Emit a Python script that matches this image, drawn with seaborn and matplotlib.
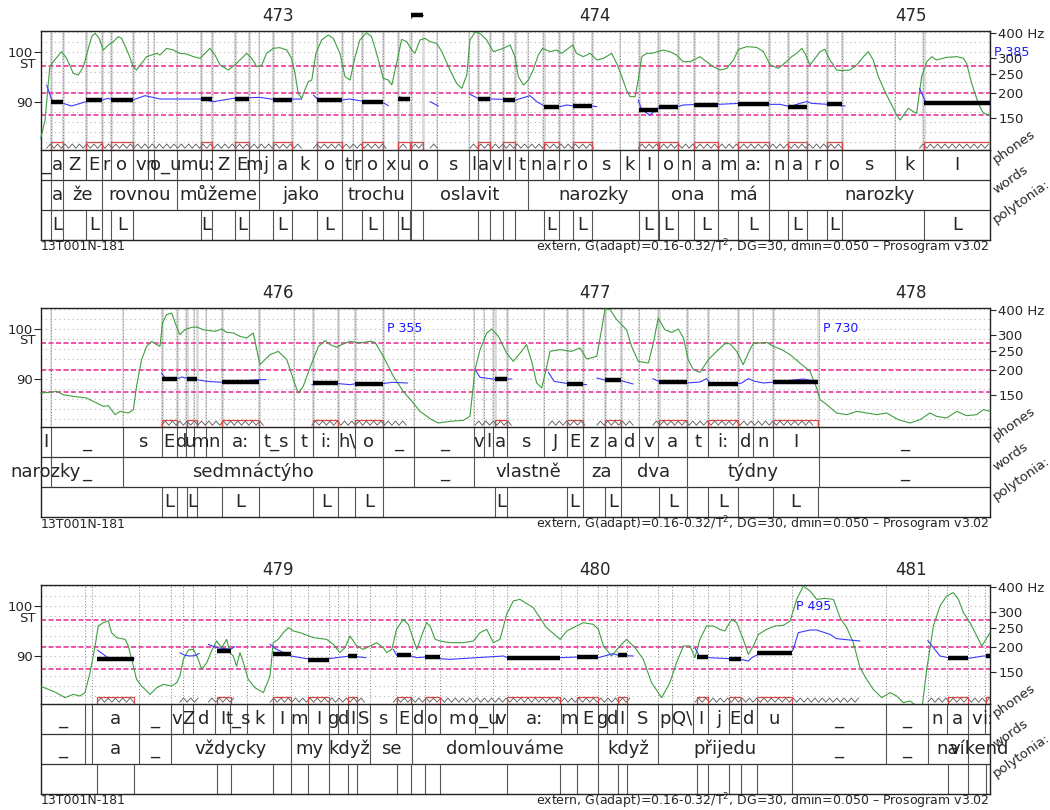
import numpy as np
import pandas as pd
import matplotlib
matplotlib.use("Agg")
import matplotlib.pyplot as plt
import seaborn as sns
from matplotlib.patches import Rectangle

sns.set_style("white")
plt.rcParams['font.family'] = ['DejaVu Sans']

# ---------------- panel 1 (472.25 - 475.25 s) ----------------
ph1_t = [472.250, 472.281, 472.320, 472.392, 472.442, 472.471, 472.540, 472.588, 472.607, 472.680,
         472.755, 472.790, 472.863, 472.908, 472.940, 472.982, 473.043, 473.122, 473.201, 473.237,
         473.264, 473.330, 473.380, 473.420, 473.501, 473.604, 473.631, 473.669, 473.711, 473.748,
         473.790, 473.837, 473.888, 473.933, 473.991, 474.080, 474.141, 474.201, 474.265, 474.314,
         474.391, 474.452, 474.552, 474.612, 474.672, 474.734, 474.781, 474.950, 475.039, 475.250]
ph1_lab = ["_", "a", "Z", "E", "r", "o", "v", "n", "o_u", "m", "u:", "Z", "E", "m", "j", "a", "k", "o",
           "t", "r", "o", "x", "u", "o", "s", "l", "a", "v", "I", "t", "n", "a", "r", "o", "s", "k", "I",
           "o", "n", "a", "m", "a:", "n", "a", "r", "o", "s", "k", "I"]
wd1_t = [472.250, 472.281, 472.320, 472.442, 472.680, 472.940, 473.201, 473.420, 473.790, 474.201,
         474.391, 474.552, 475.250]
wd1_lab = ["", "a", "že", "rovnou", "můžeme", "jako", "trochu", "oslavit", "narozky", "ona", "má", "narozky"]
nuc1_start = [472.281, 472.392, 472.471, 472.755, 472.863, 472.982, 473.122, 473.264, 473.380, 473.420,
              473.633, 473.711, 473.840, 473.933, 474.141, 474.203, 474.314, 474.452, 474.612, 474.734, 475.042]
nuc1_end = [472.320, 472.442, 472.540, 472.790, 472.908, 473.043, 473.201, 473.330, 473.418, 473.459,
            473.669, 473.748, 473.888, 473.991, 474.201, 474.265, 474.391, 474.552, 474.672, 474.781, 475.250]
nuc1_st = [90.07, 90.33, 90.33, 90.53, 90.67, 90.33, 90.33, 89.93, 90.6, 107.4, 90.6, 90.47, 89.07, 89.2,
           88.4, 89.07, 89.4, 89.53, 89.07, 89.53, 89.87]
nuc1_tone = ["L", "L", "L", "L", "L", "L", "L", "L", "L", "", "", "", "L", "L", "L", "L", "L", "L", "L", "L", "L"]
f0_1_t = [472.249, 472.263, 472.273, 472.278, 472.289, 472.315, 472.331, 472.352, 472.368, 472.384,
          472.410, 472.421, 472.434, 472.447, 472.463, 472.479, 472.494, 472.505, 472.526, 472.542,
          472.552, 472.568, 472.584, 472.600, 472.616, 472.626, 472.647, 472.668, 472.689, 472.710,
          472.732, 472.753, 472.768, 472.784, 472.800, 472.816, 472.842, 472.863, 472.879, 472.900,
          472.916, 472.932, 472.948, 472.963, 472.984, 473.005, 473.027, 473.042, 473.053, 473.063,
          473.074, 473.084, 473.095, 473.106, 473.119, 473.137, 473.158, 473.174, 473.195, 473.211,
          473.227, 473.243, 473.258, 473.279, 473.295, 473.311, 473.332, 473.348, 473.359, 473.374,
          473.390, 473.406, 473.422, 473.432, 473.448, 473.464, 473.480, 473.501, 473.517, 473.543,
          473.564, 473.580, 473.596, 473.606, 473.622, 473.638, 473.659, 473.680, 473.696, 473.712,
          473.733, 473.748, 473.759, 473.775, 473.791, 473.806, 473.822, 473.836, 473.859, 473.880,
          473.896, 473.917, 473.931, 473.943, 473.964, 473.986, 474.007, 474.028, 474.054, 474.070,
          474.086, 474.101, 474.112, 474.128, 474.138, 474.149, 474.165, 474.180, 474.201, 474.217,
          474.238, 474.259, 474.280, 474.302, 474.323, 474.333, 474.354, 474.375, 474.397, 474.418,
          474.439, 474.455, 474.481, 474.512, 474.534, 474.555, 474.581, 474.607, 474.623, 474.639,
          474.655, 474.665, 474.681, 474.697, 474.713, 474.728, 474.744, 474.765, 474.781, 474.807,
          474.829, 474.850, 474.865, 474.881, 474.897, 474.918, 474.939, 474.955, 474.966, 474.981,
          474.992, 475.008, 475.018, 475.034, 475.050, 475.066, 475.081, 475.113, 475.145, 475.166,
          475.176, 475.192, 475.213, 475.229, 475.250]
f0_1_st = [82.73, 86.4, 93.73, 97.07, 98.07, 100.07, 98.73, 95.73, 95.4, 97.07,
           103.07, 103.73, 102.73, 100.4, 101.4, 102.07, 103.07, 102.73, 99.73, 97.07,
           96.4, 97.73, 99.07, 99.4, 99.73, 99.4, 100.73, 100.4, 99.73, 99.6,
           99.07, 98.73, 99.73, 100.73, 99.4, 97.4, 96.4, 97.4, 98.4, 99.73,
           98.73, 97.07, 97.4, 99.73, 100.73, 100.87, 100.4, 98.73, 95.73, 91.73,
           90.73, 92.4, 94.07, 94.4, 99.73, 102.4, 103.4, 102.73, 99.73, 95.07,
           94.4, 99.07, 102.4, 103.87, 103.07, 99.73, 94.73, 94.4, 93.4, 97.73,
           102.53, 102.07, 100.4, 99.73, 102.4, 102.73, 102.07, 101.73, 100.07, 96.4,
           93.73, 92.73, 95.4, 102.4, 103.93, 103.73, 102.4, 100.07, 100.4, 100.73,
           101.4, 99.07, 95.07, 93.4, 94.4, 96.4, 99.4, 100.73, 100.07, 100.4,
           99.73, 100.73, 101.4, 99.73, 99.07, 99.73, 98.4, 98.73, 99.73, 97.73,
           95.07, 92.4, 91.07, 91.07, 94.4, 99.07, 99.73, 99.73, 100.07, 100.4,
           100.07, 99.4, 98.07, 98.07, 98.73, 99.07, 98.07, 97.07, 96.4, 96.73,
           98.4, 100.53, 101.07, 100.93, 100.07, 97.4, 96.73, 98.07, 99.07, 99.73,
           100.73, 99.73, 97.4, 98.73, 100.07, 100.53, 98.4, 96.4, 96.27, 96.4,
           97.4, 99.07, 100.07, 98.4, 95.07, 92.07, 89.4, 87.4, 86.4, 87.73,
           88.73, 88.07, 87.73, 95.07, 98.07, 99.07, 98.4, 98.93, 99.07, 98.73,
           97.73, 93.73, 89.73, 87.73, 87.4]
sty1_t = [[472.268, 472.284, 472.320, 472.347, 472.392, 472.442, 472.463, 472.475, 472.540, 472.579,
           472.626, 472.753, 472.795, 472.858, 472.942, 472.984, 473.074],
          [473.111, 473.127, 473.200, 473.227, 473.274, 473.330, 473.348],
          [473.383, 473.401, 473.416],
          [473.421, 473.424, 473.459],
          [473.480, 473.506],
          [473.606, 473.636, 473.669, 473.717, 473.751, 473.796, 473.817, 473.845, 473.891, 473.912,
           473.936, 473.991, 474.007],
          [474.138, 474.149, 474.175, 474.207, 474.262, 474.281, 474.333, 474.391, 474.458, 474.549,
           474.586, 474.618, 474.649, 474.671, 474.686, 474.737, 474.779, 474.792],
          [475.027, 475.039, 475.048, 475.250]]
sty1_st = [[93.4, 90.4, 89.73, 89.2, 90.07, 90.4, 90.73, 90.4, 90.4, 91.27, 90.6, 90.6, 90.07, 90.73,
            90.93, 90.53, 90.6],
           [91.4, 90.4, 90.4, 90.6, 90.07, 89.93, 89.27],
           [91.07, 90.53, 90.53],
           [106.7, 107.1, 107.3],
           [90.07, 89.2],
           [91.53, 90.6, 90.6, 90.53, 90.4, 91.27, 90.07, 89.07, 89.07, 89.4, 89.2, 89.2, 89.07],
           [90.4, 88.4, 87.4, 89.07, 89.07, 89.4, 89.53, 89.53, 89.73, 89.53, 89.53, 89.07, 89.73,
            90.07, 89.73, 89.53, 89.27, 89.2],
           [92.73, 91.07, 89.87, 89.87]]
pause1_t = [475.250]
pause1_lab = ["P 385"]

# ---------------- panel 2 (475.25 - 478.25 s) ----------------
ph2_t = [475.250, 475.281, 475.510, 475.632, 475.679, 475.708, 475.734, 475.771, 475.821, 475.940,
         476.050, 476.111, 476.190, 476.243, 476.330, 476.430, 476.620, 476.651, 476.680, 476.722,
         476.841, 476.912, 476.962, 477.033, 477.083, 477.141, 477.201, 477.291, 477.360, 477.452,
         477.502, 477.563, 477.710, 478.250]
ph2_lab = ["I", "_", "s", "E", "d", "u", "m", "n", "a:", "t_s", "t", "i:", "h\\", "o", "_", "_", "v",
           "l", "a", "s", "J", "E", "z", "a", "d", "v", "a", "t", "i:", "d", "n", "I", "_"]
wd2_t = [475.250, 475.281, 475.510, 476.330, 476.430, 476.620, 476.962, 477.083, 477.291, 477.710, 478.250]
wd2_lab = ["narozky", "_", "sedmnáctýho", "", "_", "vlastně", "za", "dva", "týdny", "_"]
nuc2_start = [475.632, 475.712, 475.821, 476.111, 476.243, 476.685, 476.912, 477.033, 477.205, 477.360, 477.565]
nuc2_end = [475.679, 475.742, 475.940, 476.190, 476.330, 476.722, 476.962, 477.083, 477.291, 477.452, 477.705]
nuc2_st = [90.07, 89.93, 89.33, 89.13, 89.07, 89.93, 89.07, 89.73, 89.4, 89.0, 89.4]
nuc2_tone = ["L"] * 11
f0_2_t = [475.249, 475.278, 475.300, 475.320, 475.352, 475.394, 475.426, 475.447, 475.463, 475.484,
          475.500, 475.526, 475.542, 475.552, 475.568, 475.584, 475.600, 475.616, 475.626, 475.634,
          475.647, 475.663, 475.674, 475.689, 475.705, 475.726, 475.742, 475.763, 475.779, 475.800,
          475.821, 475.837, 475.858, 475.879, 475.900, 475.921, 475.942, 475.974, 476.000, 476.027,
          476.048, 476.063, 476.079, 476.106, 476.127, 476.148, 476.164, 476.185, 476.200, 476.227,
          476.258, 476.290, 476.306, 476.332, 476.364, 476.395, 476.427, 476.448, 476.485, 476.506,
          476.543, 476.585, 476.606, 476.622, 476.638, 476.659, 476.675, 476.696, 476.722, 476.743,
          476.769, 476.785, 476.801, 476.817, 476.833, 476.849, 476.859, 476.891, 476.927, 476.954,
          476.975, 477.007, 477.022, 477.033, 477.049, 477.070, 477.101, 477.117, 477.138, 477.170,
          477.186, 477.201, 477.222, 477.244, 477.265, 477.281, 477.296, 477.312, 477.333, 477.360,
          477.386, 477.412, 477.428, 477.449, 477.470, 477.486, 477.502, 477.523, 477.544, 477.565,
          477.592, 477.618, 477.649, 477.681, 477.702, 477.713, 477.734, 477.765, 477.797, 477.829,
          477.860, 477.892, 477.923, 477.960, 477.997, 478.029, 478.060, 478.081, 478.113, 478.145,
          478.176, 478.208, 478.229, 478.250]
f0_2_st = [87.2, 87.33, 87.53, 86.87, 86.53, 86.2, 85.2, 84.53, 84.67, 82.87,
           83.53, 83.2, 83.87, 88.53, 93.87, 96.53, 97.53, 96.87, 96.53, 101.2,
           102.87, 103.2, 101.2, 98.87, 99.87, 100.33, 100.4, 99.87, 99.73, 99.53,
           100.0, 99.33, 99.2, 98.53, 98.2, 99.2, 92.87, 94.87, 95.53, 93.87,
           89.87, 87.2, 88.53, 93.2, 96.53, 97.67, 96.87, 96.33, 96.87, 97.53,
           97.2, 97.53, 97.33, 94.53, 90.53, 87.53, 85.2, 83.53, 81.87, 81.2,
           81.53, 81.73, 82.53, 91.87, 95.87, 99.2, 100.0, 98.53, 95.2, 93.53,
           95.53, 96.87, 93.53, 89.2, 88.2, 92.53, 95.53, 95.87, 95.53, 96.2,
           94.0, 94.53, 99.87, 104.0, 103.87, 101.87, 99.87, 96.53, 93.53, 93.2,
           97.2, 102.2, 99.87, 99.33, 100.0, 98.2, 93.87, 91.87, 91.33, 93.87,
           95.53, 97.07, 97.07, 95.53, 92.87, 95.2, 97.2, 97.2, 97.33, 96.53,
           95.87, 94.87, 93.2, 91.53, 88.2, 85.87, 84.87, 83.2, 82.87, 83.53,
           83.2, 82.87, 83.2, 81.87, 81.2, 81.87, 83.2, 82.53, 82.2, 83.53,
           82.67, 82.87, 83.87, 83.53]
sty2_t = [[475.631, 475.642, 475.679, 475.695, 475.716, 475.742, 475.774, 475.824, 475.940, 475.961],
          [476.106, 476.190, 476.227, 476.246, 476.330, 476.359, 476.409],
          [476.622, 476.638, 476.687, 476.738],
          [476.854, 476.872, 476.917, 476.975],
          [477.007, 477.036, 477.080, 477.122],
          [477.184, 477.207, 477.291, 477.333, 477.354, 477.367, 477.449, 477.465, 477.486, 477.507,
           477.534, 477.567, 477.660, 477.700]]
sty2_st = [[91.2, 90.2, 90.0, 90.4, 90.07, 89.87, 89.53, 89.33, 89.87, 89.87],
           [88.87, 89.07, 88.87, 89.07, 89.07, 89.33, 89.2],
           [91.87, 90.33, 89.93, 90.0],
           [91.33, 89.53, 89.07, 88.87],
           [90.2, 89.73, 89.73, 89.0],
           [90.07, 89.4, 89.2, 89.4, 90.07, 89.0, 89.0, 89.2, 90.07, 89.53, 89.2, 89.4, 90.0, 89.53]]
pause2_t = [476.330, 477.710]
pause2_lab = ["P 355", "P 730"]

# ---------------- panel 3 (478.25 - 481.25 s) ----------------
ph3_t = [478.250, 478.389, 478.410, 478.561, 478.660, 478.700, 478.730, 478.800, 478.847, 478.900,
         478.984, 479.040, 479.095, 479.160, 479.190, 479.221, 479.248, 479.290, 479.371, 479.422,
         479.464, 479.511, 479.622, 479.680, 479.724, 479.893, 479.944, 480.012, 480.040, 480.072,
         480.102, 480.201, 480.244, 480.311, 480.360, 480.426, 480.462, 480.514, 480.623, 480.921,
         481.053, 481.113, 481.181, 481.234, 481.250]
ph3_lab = ["_", "", "a", "_", "v", "Z", "d", "I", "t_s", "k", "I", "m", "I", "g", "d", "I", "S", "s",
           "E", "d", "o", "m", "o_u", "v", "a:", "m", "E", "g", "d", "I", "S", "p", "Q\\", "I", "j", "E",
           "d", "u", "_", "_", "n", "a", "v", "i:"]
wd3_t = [478.250, 478.389, 478.410, 478.561, 478.660, 479.040, 479.160, 479.290, 479.422, 480.012,
         480.201, 480.623, 480.921, 481.053, 481.181, 481.250]
wd3_lab = ["_", "", "a", "_", "vždycky", "my", "když", "se", "domlouváme", "když", "přijedu", "_", "_",
           "na", "víkend"]
nuc3_start = [478.428, 478.805, 478.984, 479.095, 479.221, 479.374, 479.464, 479.724, 479.945, 480.075,
              480.323, 480.426, 480.514, 481.116, 481.236]
nuc3_end = [478.545, 478.850, 479.040, 479.160, 479.248, 479.420, 479.511, 479.891, 480.012, 480.102,
            480.360, 480.462, 480.623, 481.181, 481.250]
nuc3_st = [89.47, 91.0, 90.33, 89.2, 89.93, 90.2, 89.8, 89.67, 89.8, 90.13, 89.87, 89.4, 90.6, 89.67, 90.0]
nuc3_tone = [""] * 15
f0_3_t = [478.252, 478.273, 478.294, 478.326, 478.352, 478.373, 478.389, 478.405, 478.421, 478.431,
          478.447, 478.463, 478.473, 478.489, 478.516, 478.526, 478.542, 478.552, 478.568, 478.595,
          478.616, 478.637, 478.663, 478.679, 478.689, 478.700, 478.716, 478.732, 478.747, 478.758,
          478.774, 478.789, 478.805, 478.821, 478.837, 478.847, 478.858, 478.868, 478.879, 478.890,
          478.905, 478.926, 478.953, 478.974, 478.984, 479.000, 479.016, 479.032, 479.048, 479.069,
          479.111, 479.153, 479.174, 479.195, 479.211, 479.227, 479.248, 479.269, 479.290, 479.311,
          479.332, 479.343, 479.359, 479.374, 479.395, 479.411, 479.427, 479.438, 479.453, 479.469,
          479.480, 479.496, 479.511, 479.543, 479.585, 479.617, 479.638, 479.659, 479.680, 479.701,
          479.722, 479.743, 479.764, 479.806, 479.848, 479.891, 479.912, 479.933, 479.964, 479.996,
          480.012, 480.028, 480.054, 480.080, 480.101, 480.128, 480.154, 480.180, 480.212, 480.238,
          480.259, 480.281, 480.302, 480.317, 480.333, 480.354, 480.375, 480.396, 480.412, 480.433,
          480.449, 480.470, 480.486, 480.502, 480.518, 480.544, 480.570, 480.597, 480.618, 480.639,
          480.660, 480.681, 480.702, 480.728, 480.755, 480.776, 480.797, 480.818, 480.839, 480.860,
          480.881, 480.908, 480.934, 480.955, 480.976, 480.997, 481.018, 481.034, 481.050, 481.071,
          481.092, 481.113, 481.134, 481.150, 481.166, 481.187, 481.208, 481.224, 481.234, 481.250]
f0_3_st = [83.87, 83.33, 82.8, 81.67, 82.33, 82.0, 82.67, 86.67, 92.0, 96.0,
           96.67, 97.0, 94.67, 93.67, 93.33, 92.0, 88.0, 85.33, 84.0, 82.33,
           83.67, 84.33, 84.0, 84.67, 86.0, 89.33, 91.2, 91.33, 89.33, 87.33,
           88.67, 91.0, 93.0, 91.67, 93.33, 90.67, 90.0, 88.0, 90.67, 88.67,
           85.33, 83.67, 82.67, 86.0, 92.67, 93.33, 94.67, 95.67, 95.0, 94.67,
           93.67, 93.33, 92.33, 90.67, 91.67, 94.0, 92.0, 91.33, 92.0, 92.67,
           91.67, 90.67, 91.33, 95.33, 97.33, 96.33, 93.33, 91.33, 94.0, 96.67,
           96.0, 93.33, 93.0, 92.67, 92.67, 93.0, 94.67, 95.33, 92.67, 93.33,
           98.33, 101.0, 101.33, 99.67, 95.67, 93.33, 95.0, 95.67, 96.67, 96.33,
           95.33, 92.0, 90.0, 92.0, 93.33, 91.67, 89.33, 84.67, 81.67, 84.67,
           88.67, 92.0, 92.0, 89.67, 93.33, 96.0, 96.0, 95.33, 95.0, 97.33,
           96.67, 93.33, 90.33, 92.0, 94.33, 95.33, 96.0, 96.13, 97.0, 101.33,
           104.0, 103.0, 101.33, 101.53, 101.33, 97.67, 95.67, 92.67, 87.67, 85.33,
           83.33, 81.67, 82.67, 82.0, 80.67, 81.0, 80.0, 79.0, 87.33, 96.0,
           100.0, 102.0, 102.67, 101.33, 98.67, 96.67, 94.0, 92.0, 93.0, 94.67]
sty3_t = [[478.428, 478.447, 478.463, 478.545],
          [478.689, 478.705, 478.721, 478.737, 478.750],
          [478.779, 478.805, 478.849, 478.863],
          [478.974, 478.995, 479.040, 479.090, 479.160, 479.227, 479.248, 479.277],
          [479.364, 479.374, 479.420, 479.438, 479.464, 479.511, 479.543, 479.712, 479.725, 479.891,
           479.946, 480.012, 480.059, 480.075, 480.122],
          [480.317, 480.331, 480.360, 480.428, 480.460, 480.486, 480.497, 480.518, 480.618, 480.628,
           480.644, 480.681, 480.702, 480.744, 480.765, 480.786, 480.839],
          [481.053, 481.071, 481.092, 481.118, 481.182, 481.229, 481.250]]
sty3_st = [[91.2, 90.33, 89.6, 89.47],
           [90.67, 90.13, 90.0, 90.07, 90.53],
           [92.33, 91.67, 91.33, 91.87],
           [92.33, 91.33, 90.0, 89.47, 89.47, 90.0, 89.87, 89.67],
           [91.33, 90.13, 90.0, 89.67, 89.8, 89.47, 89.33, 90.0, 89.67, 89.67, 89.8, 89.67, 90.47,
            90.13, 90.0],
           [91.67, 90.0, 89.67, 89.47, 89.33, 89.0, 89.67, 90.33, 90.53, 91.33, 94.67, 95.2, 95.2,
            94.33, 93.47, 93.33, 93.0],
           [93.13, 91.67, 90.0, 89.67, 89.53, 90.0, 90.0]]
pause3_t = [480.623]
pause3_lab = ["P 495"]

panel_t0 = [472.25, 475.25, 478.25]
range_lines = [97.2, 91.85, 87.4]      # semitones
hz_ticks = [400, 300, 250, 200, 150]
hz_labels = ["400 Hz", "300", "250", "200", "150"]
file_id = "13T001N-181"
settings = "extern, G(adapt)=0.16-0.32/T$^2$, DG=30, dmin=0.050 – Prosogram v3.02"

W, H = 1050, 810
YLO, YHI = 80.4, 104.2
GREEN, BLUE, PINK = "#3f9f3f", "#3a3aff", "#f0359a"

fig = plt.figure(figsize=(W / 100, H / 100), dpi=100)


def draw_panel(k, ph_t, ph_lab, wd_t, wd_lab, n_s, n_e, n_st, n_tone,
               f0_t, f0_st, sty_t, sty_st, p_t, p_lab, solid):
    t0 = panel_t0[k]
    t1 = t0 + 3.0
    top = 31 + 277 * k
    axp = fig.add_axes([41 / W, 1 - (top + 119) / H, 949 / W, 119 / H])
    axt = fig.add_axes([41 / W, 1 - (top + 209) / H, 949 / W, 90 / H])

    # grid, range lines, boundaries
    for st in range(82, 105, 2):
        axp.axhline(st, color="#b8b8b8", lw=0.8, ls=(0, (1, 3)), zorder=0)
    inner = ph_t[1:-1]
    if solid:
        axp.vlines(inner, YLO, YHI, color="#dedede", lw=1.3, zorder=0)
        axp.vlines(n_s + n_e, YLO, YHI, color="#dadada", lw=2.0, zorder=0)
    axp.vlines(inner, YLO, YHI, color="#808080", lw=0.7, ls=(0, (1, 2)), zorder=1)
    for st in range_lines:
        axp.axhline(st, color=PINK, lw=1.2, ls=(0, (3, 1.5)), zorder=1)

    # zigzag over voiced parts, nuclei boxes
    for seg in sty_t:
        zx = np.arange(seg[0], seg[-1], 0.0115)
        zy = np.where(np.arange(len(zx)) % 2 == 0, 80.75, 81.6)
        axp.plot(zx, zy, color="#555555", lw=0.6, zorder=2)
    for s, e in zip(n_s, n_e):
        axp.add_patch(Rectangle((s, YLO + 0.05), e - s, 1.45, fill=False,
                                edgecolor="#d84848", lw=0.9, zorder=3))

    # raw F0 and stylisation
    sns.lineplot(x=f0_t, y=f0_st, ax=axp, color=GREEN, lw=0.8, sort=False,
                 estimator=None, clip_on=False, zorder=4)
    rows = [(i, t, s) for i, (ts, ss) in enumerate(zip(sty_t, sty_st)) for t, s in zip(ts, ss)]
    sdf = pd.DataFrame(rows, columns=["seg", "t", "st"])
    sns.lineplot(data=sdf, x="t", y="st", units="seg", estimator=None, sort=False, ax=axp,
                 color=BLUE, lw=0.8, legend=False, clip_on=False, zorder=5)
    axp.hlines(n_st, n_s, n_e, color="black", lw=3.2, zorder=6, clip_on=False)
    for t, lab in zip(p_t, p_lab):
        axp.text(t, 100.0, " " + lab, color="#1a1aff", fontsize=9, ha="left", va="center",
                 zorder=7, clip_on=False)

    axp.set_xlim(t0, t1)
    axp.set_ylim(YLO, YHI)
    axp.set_xlabel("")
    axp.set_ylabel("")
    axp.set_xticks(range(int(t0) + 1, int(t1) + 1))
    axp.tick_params(axis="x", top=True, bottom=False, labeltop=True, labelbottom=False,
                    length=0, pad=4, labelsize=12)
    axp.set_yticks([90, 100], labels=["90", "100"])
    axp.tick_params(axis="y", left=True, length=5, width=0.8, labelsize=9.5, pad=1)
    axp.text(-0.006, 97.6, "ST", transform=axp.get_yaxis_transform(), ha="right", va="center",
             fontsize=9.5)
    for sp in axp.spines.values():
        sp.set_color("#222222")
        sp.set_linewidth(1.0)
    axp.spines["bottom"].set_visible(False)
    tw = axp.twinx()
    tw.set_ylim(YLO, YHI)
    tw.set_yticks(12 * np.log2(hz_ticks), labels=hz_labels)
    tw.tick_params(axis="y", right=True, length=4, width=0.8, labelsize=9.5, pad=2)
    for sp in tw.spines.values():
        sp.set_visible(False)

    # annotation tiers
    axt.set_xlim(t0, t1)
    axt.set_ylim(0, 3)
    axt.set_xticks([])
    axt.set_yticks([])
    for sp in axt.spines.values():
        sp.set_color("#222222")
        sp.set_linewidth(1.0)
    axt.axhline(1, color="#333333", lw=0.9)
    axt.axhline(2, color="#333333", lw=0.9)
    axt.vlines(ph_t[1:-1], 2, 3, color="#555555", lw=0.8)
    axt.vlines(wd_t[1:-1], 1, 2, color="#555555", lw=0.8)
    axt.vlines([x for x in n_s + n_e if t0 < x < t1], 0, 1, color="#555555", lw=0.8)
    for a, b, lab in zip(ph_t[:-1], ph_t[1:], ph_lab):
        axt.text((a + b) / 2, 2.5, lab, ha="center", va="center", fontsize=13)
    for a, b, lab in zip(wd_t[:-1], wd_t[1:], wd_lab):
        axt.text((a + b) / 2, 1.5, lab, ha="center", va="center", fontsize=13)
    for a, b, lab in zip(n_s, n_e, n_tone):
        axt.text((a + b) / 2, 0.5, lab, ha="center", va="center", fontsize=13)

    for j, name in enumerate(["phones", "words", "polytonia:"]):
        yc = top + 119 + 15 * (2 * j + 1)
        fig.text(996 / W, 1 - (yc - 1) / H, name, rotation=35, rotation_mode="anchor",
                 ha="left", va="baseline", fontsize=9.5)
    fig.text(41 / W, 1 - (top + 216) / H, file_id, ha="left", va="center", fontsize=9)
    fig.text(990 / W, 1 - (top + 216) / H, settings, ha="right", va="center", fontsize=9)


draw_panel(0, ph1_t, ph1_lab, wd1_t, wd1_lab, nuc1_start, nuc1_end, nuc1_st, nuc1_tone,
           f0_1_t, f0_1_st, sty1_t, sty1_st, pause1_t, pause1_lab, True)
draw_panel(1, ph2_t, ph2_lab, wd2_t, wd2_lab, nuc2_start, nuc2_end, nuc2_st, nuc2_tone,
           f0_2_t, f0_2_st, sty2_t, sty2_st, pause2_t, pause2_lab, True)
draw_panel(2, ph3_t, ph3_lab, wd3_t, wd3_lab, nuc3_start, nuc3_end, nuc3_st, nuc3_tone,
           f0_3_t, f0_3_st, sty3_t, sty3_st, pause3_t, pause3_lab, False)

fig.savefig("out.png", dpi=100)
